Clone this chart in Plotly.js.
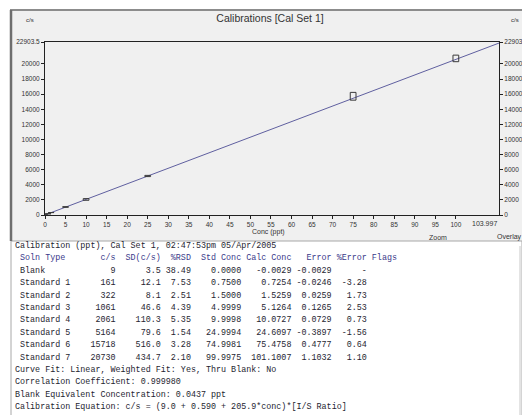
<!DOCTYPE html>
<html>
<head>
<meta charset="utf-8">
<script src="https://cdn.plot.ly/plotly-3.0.1.min.js"></script>
<style>
html,body{margin:0;padding:0;background:#fff;}
#chart{width:522px;height:415px;}
</style>
</head>
<body>
<div id="chart"></div>
<script>
// ---- data ----
const solnTypes = ['Blank','Standard 1','Standard 2','Standard 3','Standard 4','Standard 5','Standard 6','Standard 7'];
const cps      = [9, 161, 322, 1061, 2061, 5164, 15718, 20730];
const sdCps    = [3.5, 12.1, 8.1, 46.6, 110.3, 79.6, 516.0, 434.7];
const rsdPct   = [38.49, 7.53, 2.51, 4.39, 5.35, 1.54, 3.28, 2.10];
const stdConc  = [0.0000, 0.7500, 1.5000, 4.9999, 9.9998, 24.9994, 74.9981, 99.9975];
const calcConc = [-0.0029, 0.7254, 1.5259, 5.1264, 10.0727, 24.6097, 75.4758, 101.1007];
const errConc  = [-0.0029, -0.0246, 0.0259, 0.1265, 0.0729, -0.3897, 0.4777, 1.1032];
const errPct   = ['-', '-3.28', '1.73', '2.53', '0.73', '-1.56', '0.64', '1.10'];
const flags    = ['', '', '', '', '', '', '', ''];

// fitted calibration line (as drawn)
const fitX = [0, 110.5];
const fitY = [9.6, 22762];

const xTickVals = [0,5,10,15,20,25,30,35,40,45,50,55,60,65,70,75,80,85,90,95,100];
const xTickText = ['0','5','10','15','20','25','30','35','40','45','50','55','60','65','70','75','80','85','90','95','100'];
const xEndLabel = '103.997';
const yTickVals = [0,2000,4000,6000,8000,10000,12000,14000,16000,18000,20000,22903.5];
const yTickText = ['0','2000','4000','6000','8000','10000','12000','14000','16000','18000','20000','22903.5'];
const xRange = [0, 110.5];
const yRange = [0, 22903.5];

const titleText = 'Calibrations [Cal Set 1]';
const xTitle = 'Conc (ppt)';
const yUnit = 'c/s';
const infoHeader = 'Calibration (ppt), Cal Set 1, 02:47:53pm 05/Apr/2005';
const footerLines = [
  'Curve Fit: Linear, Weighted Fit: Yes, Thru Blank: No',
  'Correlation Coefficient: 0.999980',
  'Blank Equivalent Concentration: 0.0437 ppt',
  'Calibration Equation: c/s = (9.0 + 0.590 + 205.9*conc)*[I/S Ratio]'
];

// ---- geometry helpers (pixel -> paper) ----
const W = 522, H = 415;
const M = {l:45, r:23, t:42, b:200};
const PW = W - M.l - M.r, PH = H - M.t - M.b;
const px = p => (p - M.l) / PW;
const py = p => (H - M.b - p) / PH;

// ---- text table ----
const header = (' Soln Type').padEnd(15) + 'c/s'.padStart(5) + 'SD(c/s)'.padStart(9) + '%RSD'.padStart(6) +
  'Std Conc'.padStart(10) + 'Calc Conc'.padStart(10) + 'Error'.padStart(8) + '%Error'.padStart(7) + ' Flags';
const rows = solnTypes.map((n,i) =>
  (' ' + n).padEnd(15) + String(cps[i]).padStart(5) + sdCps[i].toFixed(1).padStart(9) +
  rsdPct[i].toFixed(2).padStart(6) + stdConc[i].toFixed(4).padStart(10) +
  calcConc[i].toFixed(4).padStart(10) + errConc[i].toFixed(4).padStart(8) +
  errPct[i].padStart(7) + (flags[i] ? ' ' + flags[i] : ''));
const lines = [infoHeader, header].concat(rows, footerLines);
const nb = s => s.replace(/ /g, '\u00a0');

const annotations = [];
const lineTop = 246, lineStep = 12.4;
lines.forEach((t,i) => {
  annotations.push({
    xref:'paper', yref:'paper', x:px(13), y:py(lineTop + i*lineStep),
    xanchor:'left', yanchor:'middle', showarrow:false, text:nb(t),
    font:{family:'Liberation Mono, DejaVu Sans Mono, monospace', size:8.4, color: i===1 ? '#3a3a8a' : '#1e1e30'}
  });
});
const smallFont = {family:'Arial, Liberation Sans, sans-serif', size:7, color:'#333'};
const lab = (x, y, text, font, xa) => ({xref:'paper', yref:'paper', x:px(x), y:py(y), text:text, showarrow:false,
  xanchor:xa || 'center', yanchor:'middle', font:font});
annotations.push(lab(30, 20, yUnit, {...smallFont, size:6}));
annotations.push(lab(515, 20, yUnit, {...smallFont, size:6}));
annotations.push(lab(268, 232, xTitle, smallFont));
annotations.push(lab(438, 237, 'Zoom', smallFont));
annotations.push(lab(509, 237, 'Overlay', smallFont));
annotations.push({xref:'x', yref:'paper', x:xRange[1], y:py(223), xanchor:'right', yanchor:'middle', text:xEndLabel, showarrow:false, font:smallFont});

// ---- shapes: window frame + panels + calibration boxes ----
const shapes = [
  {type:'rect', xref:'paper', yref:'paper', x0:px(11), x1:px(522), y0:py(11), y1:py(241), fillcolor:'#f0f0f0', line:{width:0}, layer:'below'},
  {type:'rect', xref:'paper', yref:'paper', x0:px(11), x1:px(522), y0:py(241), y1:py(416), fillcolor:'#ffffff', line:{color:'#a8a8a8', width:1}, layer:'below'},
  {type:'line', xref:'paper', yref:'paper', x0:px(10), x1:px(522), y0:py(10), y1:py(10), line:{color:'#8c8c8c', width:2}, layer:'below'},
  {type:'line', xref:'paper', yref:'paper', x0:px(11), x1:px(11), y0:py(10), y1:py(241), line:{color:'#6e6e6e', width:2.5}, layer:'below'},
  {type:'line', xref:'paper', yref:'paper', x0:px(520), x1:px(520), y0:py(246), y1:py(415), line:{color:'#c8c8c8', width:1}, layer:'below'}
];
const boxHalfW = 0.7;
stdConc.forEach((c,i) => {
  shapes.push({type:'rect', xref:'x', yref:'y', x0:c-boxHalfW, x1:c+boxHalfW, y0:cps[i]-sdCps[i], y1:cps[i]+sdCps[i],
    line:{color:'#3a3a3a', width:1}, fillcolor:'rgba(0,0,0,0)'});
});

const traces = [
  {type:'scatter', mode:'lines', x:fitX, y:fitY, line:{color:'#5f5f9f', width:1}, hoverinfo:'skip', showlegend:false},
  {type:'scatter', mode:'lines', x:fitX, y:fitY, yaxis:'y2', line:{color:'rgba(0,0,0,0)', width:0}, hoverinfo:'skip', showlegend:false}
];

const tickFont = {family:'Arial, Liberation Sans, sans-serif', size:6.5, color:'#333'};
const layout = {
  width:W, height:H, margin:M,
  paper_bgcolor:'#ffffff', plot_bgcolor:'#ffffff',
  showlegend:false,
  title:{text:titleText, x:270/W, xanchor:'center', y:1-18/H, yanchor:'middle',
         font:{family:'Arial, Liberation Sans, sans-serif', size:10.5, color:'#333'}},
  xaxis:{range:xRange, tickmode:'array', tickvals:xTickVals, ticktext:xTickText, ticks:'outside', ticklen:3,
         tickcolor:'#222', showline:true, linecolor:'#222', linewidth:1, mirror:true, showgrid:false, zeroline:false,
         tickfont:tickFont, fixedrange:true},
  yaxis:{range:yRange, tickmode:'array', tickvals:yTickVals, ticktext:yTickText, ticks:'outside', ticklen:3,
         tickcolor:'#222', showline:true, linecolor:'#222', linewidth:1, mirror:true, showgrid:false, zeroline:false,
         tickfont:tickFont, fixedrange:true},
  yaxis2:{range:yRange, overlaying:'y', side:'right', tickmode:'array', tickvals:yTickVals, ticktext:yTickText,
         ticks:'outside', ticklen:3, tickcolor:'#222', showline:false, showgrid:false, zeroline:false,
         tickfont:tickFont, fixedrange:true},
  shapes:shapes,
  annotations:annotations
};
Plotly.newPlot('chart', traces, layout, {staticPlot:true, displayModeBar:false});
</script>
</body>
</html>
